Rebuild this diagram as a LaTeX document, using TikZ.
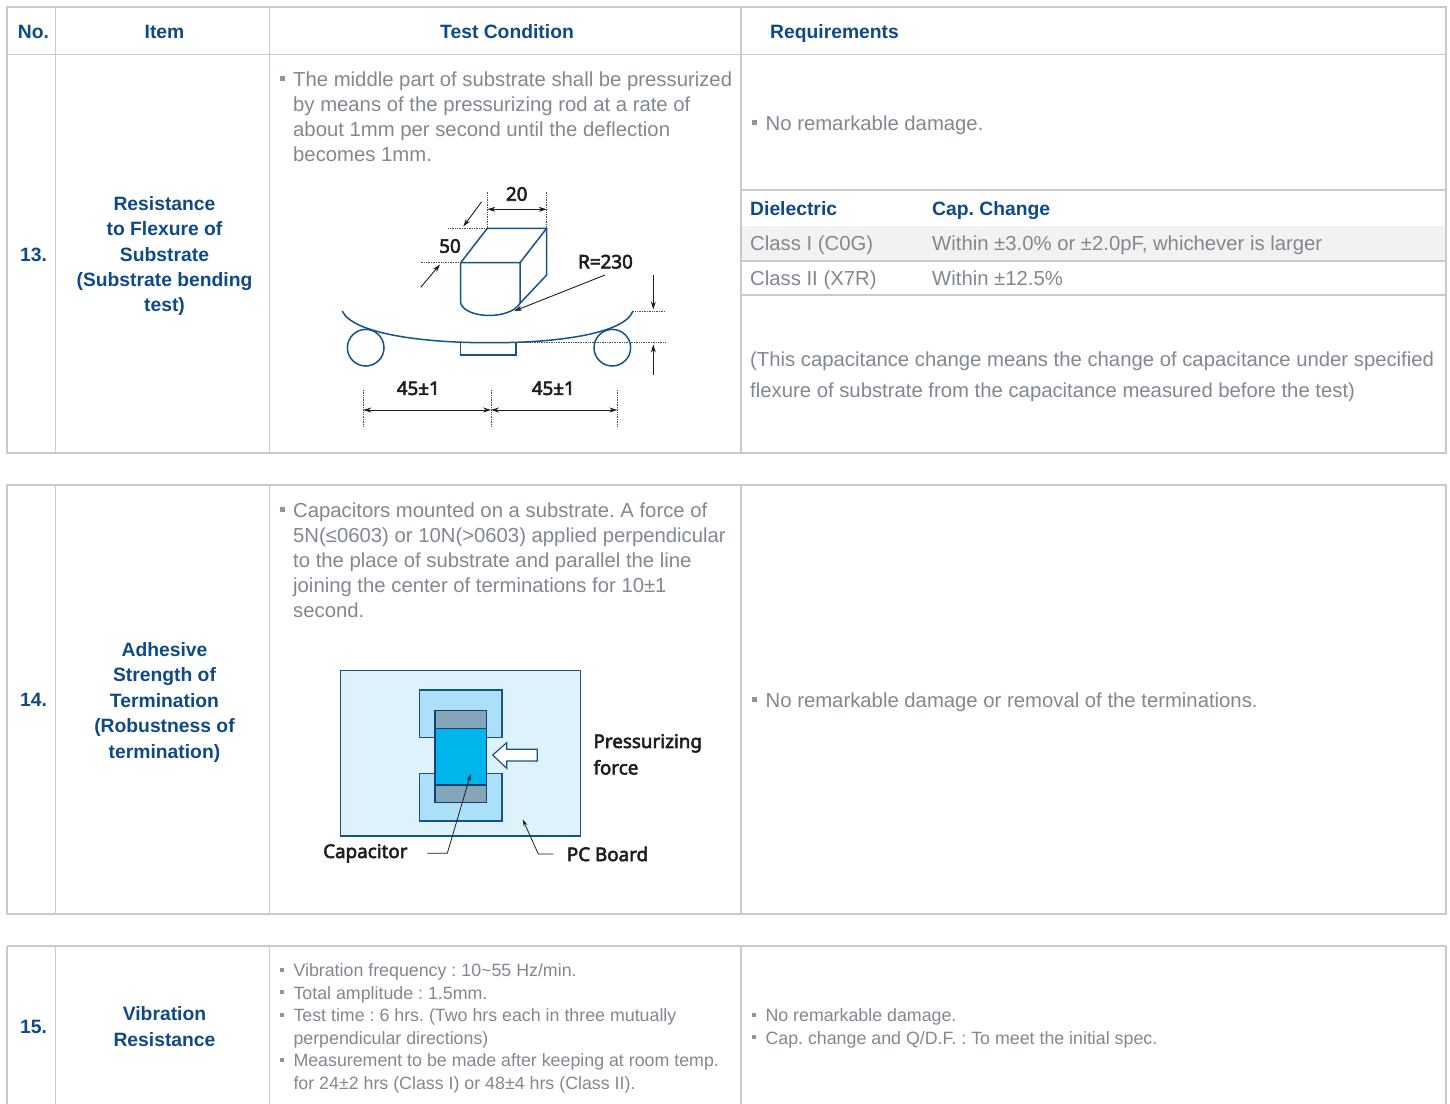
\documentclass[tikz,border=0pt]{standalone}
\usepackage{fontspec}
\setmainfont{Liberation Sans}
\newfontfamily\diagfont{Noto Sans}[FakeBold=3]
\usetikzlibrary{arrows.meta}
\frenchspacing
\definecolor{tblc}{RGB}{202,202,206}
\definecolor{hblue}{RGB}{14,74,134}
\definecolor{bodyc}{RGB}{128,136,145}
\definecolor{bulc}{RGB}{140,148,156}
\definecolor{bandc}{RGB}{242,242,242}
\definecolor{dblue}{RGB}{22,82,142}
\definecolor{boardc}{RGB}{222,242,252}
\definecolor{padc}{RGB}{172,224,250}
\definecolor{capc}{RGB}{0,180,236}
\definecolor{termc}{RGB}{133,166,184}
\definecolor{darkc}{RGB}{30,30,30}
\newcommand\blt{\llap{\textcolor{bulc}{\rule[5.5pt]{5pt}{5pt}}\hspace{8.3pt}}}
\newcommand\bls{\llap{\textcolor{bulc}{\rule[4.8pt]{4.3pt}{4.3pt}}\hspace{9.7pt}}}
\begin{document}
\begin{tikzpicture}[x=1pt,y=-1pt,
  tbl/.style={draw=tblc,line width=1.2pt},
  hdr/.style={inner sep=0pt,text=hblue,font=\fontsize{19.3pt}{23pt}\selectfont\bfseries\frenchspacing},
  body/.style={inner sep=0pt,anchor=base west,text=bodyc,font=\fontsize{20.3pt}{25pt}\selectfont\frenchspacing},
  small/.style={inner sep=0pt,anchor=base west,text=bodyc,font=\fontsize{17.8pt}{22pt}\selectfont\frenchspacing},
  item/.style={hdr,anchor=base},
  dg/.style={draw=dblue,line width=1.5pt},
  ext/.style={densely dotted,line width=0.7pt,draw=black!70},
  dimarr/.style={-{Stealth[length=8pt,width=5pt]},line width=0.9pt,draw=darkc},
  dimboth/.style={{Stealth[length=8pt,width=5pt]}-{Stealth[length=8pt,width=5pt]},line width=0.9pt,draw=darkc},
  lead/.style={-{Stealth[length=7pt,width=4pt]},line width=0.8pt,draw=darkc},
  lbl/.style={inner sep=0pt,text=darkc,font=\diagfont\fontsize{18.8pt}{22pt}\selectfont}]
\useasboundingbox (0,0) rectangle (1450,1103);
\fill[white] (0,0) rectangle (1450,1103);

% ---------------- table 13 ----------------
\fill[bandc] (741,226) rectangle (1446,261);
\draw[tbl] (7,7) rectangle (1446,453);
\draw[tbl] (7,54.3) -- (1446,54.3);
\foreach \x in {55.5,269.5,741} \draw[tbl] (\x,7) -- (\x,453);
\foreach \y in {190,261,295} \draw[tbl] (741,\y) -- (1446,\y);

\node[hdr,anchor=base] (hNo) at (33.5,38.3) {No.};
\node[hdr,anchor=base] (hItem) at (164.5,38.3) {Item};
\node[hdr,anchor=base] (hTC) at (507,38.3) {Test Condition};
\node[hdr,anchor=base west] (hReq) at (770,38.3) {Requirements};

\node[item] (n13) at (33.5,261.7) {13.};
\node[item] (i13a) at (164.5,210.3) {Resistance};
\node[item] (i13b) at (164.5,235.7) {to Flexure of};
\node[item] (i13c) at (164.5,261.1) {Substrate};
\node[item] (i13d) at (164.5,286.5) {(Substrate bending};
\node[item] (i13e) at (164.5,311.9) {test)};

\node[body] (t13a) at (293,86.7) {\blt The middle part of substrate shall be pressurized};
\node[body] (t13b) at (293,111.7) {by means of the pressurizing rod at a rate of};
\node[body] (t13c) at (293,136.7) {about 1mm per second until the deflection};
\node[body] (t13d) at (293,161.7) {becomes 1mm.};

\node[body] (r13a) at (765.5,130.5) {\blt No remarkable damage.};
\node[hdr,anchor=base west] (dielH) at (750,215.5) {Dielectric};
\node[hdr,anchor=base west] (capH) at (932,215.5) {Cap. Change};
\node[body] (c1a) at (750,250.5) {Class I (C0G)};
\node[body] (c1b) at (932,250.5) {Within ±3.0\% or ±2.0pF, whichever is larger};
\node[body] (c2a) at (750,285.5) {Class II (X7R)};
\node[body] (c2b) at (932,285.5) {Within ±12.5\%};
\node[body] (p13a) at (750,366.5) {(This capacitance change means the change of capacitance under specified};
\node[body] (p13b) at (750,397.5) {flexure of substrate from the capacitance measured before the test)};

% bending diagram
\draw[dg,line join=round] (460.7,262.7) -- (520,262.7) -- (520,303.3) .. controls (510,320) and (466,319) .. (460.7,303.3) -- cycle;
\draw[dg,line join=round] (460.7,262.7) -- (487.3,228.3) -- (546.7,228.3) -- (520,262.7);
\draw[dg,line join=round] (546.7,228.3) -- (546.7,275) -- (520,303.3);
\draw[dg] (342.3,311) .. controls (352,333) and (420,343) .. (490,342.7) .. controls (560,343) and (625,333) .. (633,311);
\draw[dg] (365.7,347.7) circle[radius=18.3pt];
\draw[dg] (612.3,347.7) circle[radius=18.3pt];
\draw[dg] (460.7,342.7) rectangle (516,355);

\coordinate (e20a) at (487.3,191.7); \coordinate (e20b) at (546.7,191.7);
\draw[ext] (e20a) -- (487.3,228.3);
\draw[ext] (e20b) -- (546.7,228.3);
\coordinate (d20a) at (487.3,209.3); \coordinate (d20b) at (546.7,209.3);
\draw[dimboth] (d20a) -- (d20b);
\node[lbl] (l20) at (516.7,194) {20};

\draw[ext] (448.3,228.3) -- (487.3,228.3);
\draw[ext] (420.7,262.7) -- (460.7,262.7);
\coordinate (a50s) at (481.7,201.7); \coordinate (a50e) at (463.3,226.5);
\coordinate (b50s) at (420.7,287.3); \coordinate (b50e) at (440,264.5);
\draw[dimarr] (a50s) -- (a50e);
\draw[dimarr] (b50s) -- (b50e);
\node[lbl] (l50) at (450,246) {50};

\node[lbl] (lR) at (605.5,261.7) {R=230};
\coordinate (rTip) at (514.3,311);
\draw[dimarr] (605,275) -- (rTip);

\draw[ext] (631.7,311) -- (665,311);
\draw[ext] (516.7,342.7) -- (665,342.7);
\coordinate (v1s) at (653.3,275); \coordinate (v1e) at (653.3,309.5);
\coordinate (v2s) at (653.3,375); \coordinate (v2e) at (653.3,344.5);
\draw[dimarr] (v1s) -- (v1e);
\draw[dimarr] (v2s) -- (v2e);

\foreach \x in {363.3,491,617.3} \draw[ext] (\x,390) -- (\x,426);
\coordinate (h1) at (363.3,410); \coordinate (h2) at (491,410); \coordinate (h3) at (617.3,410);
\draw[dimboth] (h1) -- (h2);
\draw[dimboth] (h2) -- (h3);
\node[lbl] (l45a) at (418.3,388.3) {45±1};
\node[lbl] (l45b) at (553.3,388.3) {45±1};

% ---------------- table 14 ----------------
\draw[tbl] (7,485) rectangle (1446,914);
\foreach \x in {55.5,269.5,741} \draw[tbl] (\x,485) -- (\x,914);

\node[item] (n14) at (33.5,706.5) {14.};
\node[item] (i14a) at (164.5,656.5) {Adhesive};
\node[item] (i14b) at (164.5,681.9) {Strength of};
\node[item] (i14c) at (164.5,707.3) {Termination};
\node[item] (i14d) at (164.5,732.7) {(Robustness of};
\node[item] (i14e) at (164.5,758.1) {termination)};

\node[body] (t14a) at (293,517.5) {\blt Capacitors mounted on a substrate. A force of};
\node[body] (t14b) at (293,542.5) {5N(≤0603) or 10N(>0603) applied perpendicular};
\node[body] (t14c) at (293,567.5) {to the place of substrate and parallel the line};
\node[body] (t14d) at (293,592.5) {joining the center of terminations for 10±1};
\node[body] (t14e) at (293,617.5) {second.};

\node[body] (r14a) at (765.5,707.5) {\blt No remarkable damage or removal of the terminations.};

% adhesive diagram
\filldraw[fill=boardc,draw=dblue,line width=1.3pt] (340.7,670.7) rectangle (580.7,836);
\filldraw[fill=padc,draw=dblue,line width=1.2pt] (419.3,690) rectangle (502,737.3);
\filldraw[fill=padc,draw=dblue,line width=1.2pt] (419.3,773.3) rectangle (502,821);
\filldraw[fill=capc,draw=dblue!80!black,line width=1.2pt] (435,710.7) rectangle (486.7,802.7);
\filldraw[fill=termc,draw=dblue!80!black,line width=1.2pt] (435,710.7) rectangle (486.7,728.3);
\filldraw[fill=termc,draw=dblue!80!black,line width=1.2pt] (435,785) rectangle (486.7,802.7);
\filldraw[fill=white,draw=dblue,line width=1.2pt,line join=miter] (492.7,755) -- (506.7,742.7) -- (506.7,749.3) -- (537.3,749.3) -- (537.3,761) -- (506.7,761) -- (506.7,768.3) -- cycle;

\node[lbl,anchor=west] (lPress) at (593.3,743.3) {Pressurizing};
\node[lbl,anchor=west] (lForce) at (593.3,767.3) {force};
\node[lbl,anchor=west] (lCap) at (323,853.3) {Capacitor};
\node[lbl,anchor=west] (lPCB) at (566.7,854) {PC Board};
\coordinate (capL0) at (427.3,853.3); \coordinate (capL1) at (447.3,853.3); \coordinate (capTip) at (470.7,774);
\draw[lead] (capL0) -- (capL1) -- (capTip);
\coordinate (pcbL0) at (553.3,854); \coordinate (pcbL1) at (538.3,854); \coordinate (pcbTip) at (522.7,819.3);
\draw[lead] (pcbL0) -- (pcbL1) -- (pcbTip);

% ---------------- table 15 ----------------
\draw[tbl] (7,946) -- (1446,946);
\foreach \x in {7,55.5,269.5,741,1446} \draw[tbl] (\x,946) -- (\x,1104);

\node[item] (n15) at (33.5,1033.5) {15.};
\node[item] (i15a) at (164.5,1020.5) {Vibration};
\node[item] (i15b) at (164.5,1046.5) {Resistance};

\node[small] (t15a) at (293.3,976.7) {\bls Vibration frequency : 10\textasciitilde 55 Hz/min.};
\node[small] (t15b) at (293.3,999.2) {\bls Total amplitude : 1.5mm.};
\node[small] (t15c) at (293.3,1021.7) {\bls Test time : 6 hrs. (Two hrs each in three mutually};
\node[small] (t15d) at (293.3,1044.2) {perpendicular directions)};
\node[small] (t15e) at (293.3,1066.7) {\bls Measurement to be made after keeping at room temp.};
\node[small] (t15f) at (293.3,1089.2) {for 24±2 hrs (Class I) or 48±4 hrs (Class II).};

\node[small] (r15a) at (765.3,1021.7) {\bls No remarkable damage.};
\node[small] (r15b) at (765.3,1044.2) {\bls Cap. change and Q/D.F. : To meet the initial spec.};
\end{tikzpicture}
\end{document}
